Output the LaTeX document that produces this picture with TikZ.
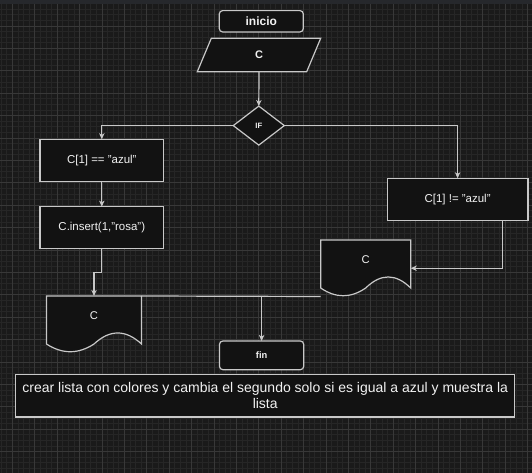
\documentclass[tikz,border=0pt]{standalone}
\usepackage{fontspec}
\setmainfont{Liberation Sans}
\usetikzlibrary{calc,arrows.meta}
\definecolor{bgc}{HTML}{1A1A1A}
\definecolor{topbar}{HTML}{26282C}
\definecolor{gridminor}{HTML}{262626}
\definecolor{gridmajor}{HTML}{383838}
\definecolor{nodefill}{HTML}{121212}
\definecolor{linec}{HTML}{C8C8C8}
\definecolor{txtc}{HTML}{F2F2F2}
\newcommand\docoutline[1]{%
  \draw[shapeline] (#1.north west) -- (#1.north east) -- ($(#1.north east)+(0,48)$)
    .. controls ($(#1.north east)!0.3333!(#1.north)+(0,33.3)$) and ($(#1.north east)!0.6667!(#1.north)+(0,33.3)$) .. ($(#1.north)+(0,48)$)
    .. controls ($(#1.north)!0.3333!(#1.north west)+(0,58.3)$) and ($(#1.north)!0.6667!(#1.north west)+(0,58.3)$) .. ($(#1.north west)+(0,48)$)
    -- cycle;}
\begin{document}
\begin{tikzpicture}[x=0.75pt,y=-0.75pt,
  shapeline/.style={draw=linec, fill=nodefill, line width=0.9pt},
  frame/.style={inner sep=0pt, outer sep=0pt},
  procbox/.style={draw=linec, fill=nodefill, line width=0.9pt, inner sep=0pt, outer sep=0pt, text=txtc, font=\fontsize{8.6}{10}\selectfont},
  termbox/.style={procbox, rounded corners=2.5pt, font=\bfseries\fontsize{9}{10}\selectfont},
  txt/.style={text=txtc, inner sep=0pt},
  conn/.style={draw=linec, line width=0.9pt},
  arr/.style={conn, -{Stealth[length=4.5pt,width=4pt,inset=1.2pt]}},
  minorg/.style={draw=gridminor, line width=0.6pt},
  majorg/.style={draw=gridmajor, line width=0.6pt}]
\useasboundingbox (0,0) rectangle (532,473);
% background and grid
\fill[bgc] (0,0) rectangle (532,473);
\begin{scope}
\clip (0,4) rectangle (532,473);
\foreach \k in {0,...,97} \draw[minorg] ({-10.1+\k*5.6},4) -- ({-10.1+\k*5.6},473);
\foreach \k in {0,...,84} \draw[minorg] (0,{3.6+\k*5.6}) -- (532,{3.6+\k*5.6});
\foreach \k in {0,...,24} \draw[majorg] ({-10.1+\k*22.4},4) -- ({-10.1+\k*22.4},473);
\foreach \k in {0,...,21} \draw[majorg] (0,{3.6+\k*22.4}) -- (532,{3.6+\k*22.4});
\end{scope}
\fill[topbar] (0,0) rectangle (532,4);
% nodes
\node[termbox, minimum width=63pt, minimum height=16pt] (inicio) at (261.3,21.3) {inicio};
\node[frame, minimum width=92.55pt, minimum height=25.05pt] (para) at (259,55) {};
\draw[shapeline] (para.south west) -- ($(para.south east)+(-14,0)$) -- (para.north east) -- ($(para.north west)+(14,0)$) -- cycle;
\node[txt, font=\bfseries\fontsize{8.25}{10}\selectfont] (parat) at (para.center) {C};
\node[frame, minimum width=38.25pt, minimum height=29.25pt] (ifn) at (258.8,125.6) {};
\draw[shapeline] (ifn.north) -- (ifn.east) -- (ifn.south) -- (ifn.west) -- cycle;
\node[txt, font=\bfseries\fontsize{5.8}{7}\selectfont] (ift) at (ifn.center) {IF};
\node[procbox, minimum width=92.8pt, minimum height=31.8pt] (box1) at (101.8,160.5) {C[1] == "azul"};
\node[procbox, minimum width=92.8pt, minimum height=31.5pt] (box2) at (101.8,227.7) {C.insert(1,"rosa")};
\node[procbox, minimum width=105.5pt, minimum height=31.8pt] (boxR) at (457.6,199.5) {C[1] != "azul"};
\node[frame, minimum width=71.25pt, minimum height=42.375pt] (docL) at (94,324.25) {};
\docoutline{docL}
\node[txt, font=\fontsize{8.4}{10}\selectfont] (docLt) at ($(docL.north)+(0,20)$) {C};
\node[frame, minimum width=67.5pt, minimum height=42.375pt] (docR) at (365.7,268.25) {};
\docoutline{docR}
\node[txt, font=\fontsize{8.4}{10}\selectfont] (docRt) at ($(docR.north)+(0,20)$) {C};
\node[termbox, minimum width=63.15pt, minimum height=21.5pt, font=\bfseries\fontsize{7}{9}\selectfont] (fin) at (261.6,355.35) {fin};
\node[procbox, rounded corners=0pt, minimum width=374.4pt, minimum height=32pt, align=center, font=\fontsize{10.5}{12}\selectfont] (note) at (265.2,395.65) {crear lista con colores y cambia el segundo solo si es igual a azul y muestra la\\lista};
% connectors
\draw[arr] (para.south) -- (ifn.north);
\draw[arr] (ifn.west) -| (box1.north);
\draw[arr] (ifn.east) -| (boxR.north);
\draw[arr] (box1.south) -- (box2.north);
\draw[arr] (box2.south) -- ++(0,24) -| (docL.north);
\draw[arr] ($(boxR.south west)+(115,0)$) |- (docR.east);
\coordinate (junc) at (fin.north |- docL.north);
\draw[conn] (docR.south west) -- (docL.north east);
\draw[arr] (junc) -- (fin.north);
\end{tikzpicture}
\end{document}
